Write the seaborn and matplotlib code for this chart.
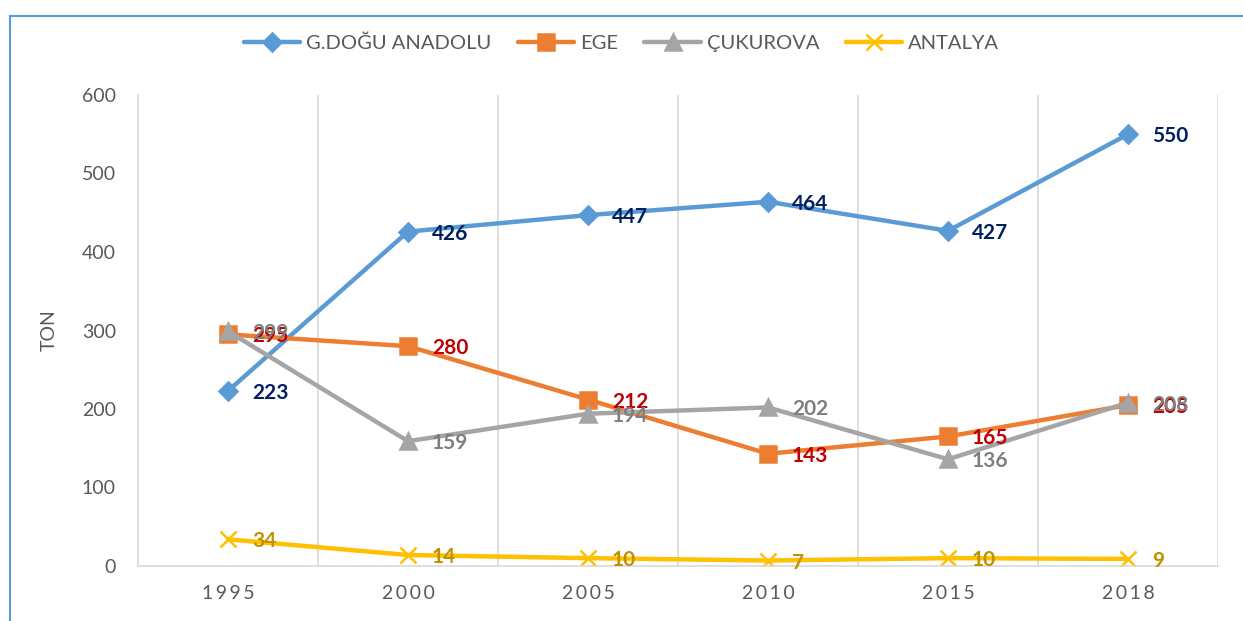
import matplotlib
matplotlib.use("Agg")
import matplotlib.pyplot as plt
import seaborn as sns
import pandas as pd
from matplotlib.patches import Rectangle

years = ["1995", "2000", "2005", "2010", "2015", "2018"]
regions = ["G.DOĞU ANADOLU", "EGE", "ÇUKUROVA", "ANTALYA"]
gdogu = [223, 426, 447, 464, 427, 550]
ege = [295, 280, 212, 143, 165, 205]
cukurova = [299, 159, 194, 202, 136, 208]
antalya = [34, 14, 10, 7, 10, 9]

line_colors = {"G.DOĞU ANADOLU": "#5B9BD5", "EGE": "#ED7D31",
               "ÇUKUROVA": "#A5A5A5", "ANTALYA": "#FFC000"}
label_colors = {"G.DOĞU ANADOLU": "#002060", "EGE": "#C00000",
                "ÇUKUROVA": "#7F7F7F", "ANTALYA": "#BF9000"}
markers = {"G.DOĞU ANADOLU": "D", "EGE": "s", "ÇUKUROVA": "^", "ANTALYA": "x"}
msizes = {"G.DOĞU ANADOLU": 9, "EGE": 11, "ÇUKUROVA": 11, "ANTALYA": 11}

rows = []
for name, vals in zip(regions, [gdogu, ege, cukurova, antalya]):
    for i, v in enumerate(vals):
        rows.append({"pos": i, "year": years[i], "region": name, "ton": v})
df = pd.DataFrame(rows)

sns.set_style("white")
plt.rcParams["font.family"] = ["Lato", "DejaVu Sans"]

fig = plt.figure(figsize=(12.43, 6.21), dpi=100)
ax = fig.add_axes([138 / 1243, 1 - 566 / 621, 1080 / 1243, 471 / 621])

for name in regions:
    sub = df[df.region == name]
    sns.lineplot(data=sub, x="pos", y="ton", color=line_colors[name],
                 marker=markers[name], markersize=msizes[name],
                 markeredgewidth=1.8, markeredgecolor=line_colors[name],
                 linewidth=3.2, label=name, ax=ax)

for name in regions:
    sub = df[df.region == name]
    for _, r in sub.iterrows():
        ax.annotate(str(r.ton), (r.pos, r.ton), xytext=(24, -2),
                    textcoords="offset pixels", ha="left", va="center",
                    fontsize=15, fontweight="bold", color=label_colors[name])

ax.set_xlim(-0.5, 5.5)
ax.set_ylim(0, 600)
ax.set_yticks(range(0, 601, 100))
ax.set_xticks(range(len(years)))
ax.set_xticklabels(["\u2009".join(y) for y in years])
ax.tick_params(axis="both", length=0, labelsize=14, colors="#595959")
ax.tick_params(axis="x", pad=14)
ax.tick_params(axis="y", pad=16)
for b in [0.5, 1.5, 2.5, 3.5, 4.5, 5.5]:
    ax.axvline(b, color="#D9D9D9", lw=1.2, zorder=0)
for s in ["top", "right"]:
    ax.spines[s].set_visible(False)
ax.spines["left"].set_color("#D9D9D9")
ax.spines["bottom"].set_color("#D9D9D9")
ax.spines["left"].set_linewidth(1.2)
ax.spines["bottom"].set_linewidth(1.2)
ax.set_xlabel("")
ax.set_ylabel("TON", fontsize=14, color="#595959")
ax.yaxis.set_label_coords((58 - 138) / 1080, 0.5)

handles, labels = ax.get_legend_handles_labels()
ax.legend(handles, labels, loc="center", bbox_to_anchor=(0.5, 1 - 43 / 621),
          bbox_transform=fig.transFigure, ncol=4, frameon=False,
          fontsize=14.5, handlelength=2.8, columnspacing=1.3,
          labelcolor="#595959", handletextpad=0.3)

fig.patches.append(Rectangle((10 / 1243, -0.1), 1.2, 1 - 16 / 621 + 0.1,
                             transform=fig.transFigure, fill=False,
                             edgecolor="#5B9BD5", lw=1.5))

fig.savefig("out.png", dpi=100)
